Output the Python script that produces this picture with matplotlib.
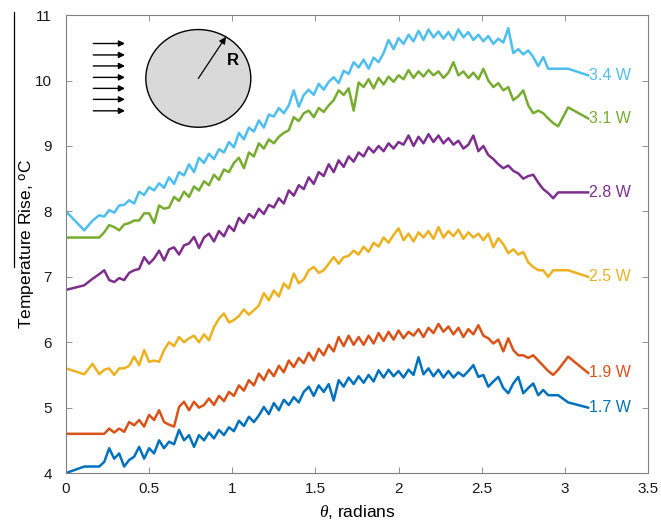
import matplotlib
matplotlib.use("Agg")
import matplotlib.pyplot as plt
from matplotlib.patches import Ellipse
from matplotlib.lines import Line2D

plt.rcParams['font.family'] = ['Liberation Sans', 'DejaVu Sans']
plt.rcParams['mathtext.fontset'] = 'custom'
plt.rcParams['mathtext.it'] = 'Liberation Serif:italic'

# sample positions (radians), shared by all curves
theta = [0.00, 0.11, 0.16, 0.20, 0.23, 0.26, 0.29, 0.32, 0.35, 0.38, 0.41, 0.44, 0.47, 0.50,
         0.53, 0.56, 0.59, 0.62, 0.65, 0.68, 0.71, 0.74, 0.77, 0.80, 0.83, 0.86, 0.89, 0.92,
         0.95, 0.98, 1.01, 1.04, 1.07, 1.10, 1.13, 1.16, 1.19, 1.22, 1.25, 1.28, 1.31, 1.34,
         1.37, 1.40, 1.43, 1.46, 1.49, 1.52, 1.55, 1.58, 1.61, 1.64, 1.67, 1.70, 1.73, 1.76,
         1.79, 1.82, 1.85, 1.88, 1.91, 1.94, 1.97, 2.00, 2.03, 2.06, 2.09, 2.12, 2.15, 2.18,
         2.21, 2.24, 2.27, 2.30, 2.33, 2.36, 2.39, 2.42, 2.45, 2.48, 2.51, 2.54, 2.57, 2.60,
         2.63, 2.66, 2.69, 2.72, 2.75, 2.78, 2.81, 2.84, 2.87, 2.90, 2.93, 2.96, 3.02, 3.14]

t_34 = [8.00, 7.71, 7.86, 7.94, 7.92, 8.02, 7.98, 8.09, 8.10, 8.17, 8.12, 8.30, 8.25, 8.37,
        8.32, 8.43, 8.36, 8.52, 8.42, 8.60, 8.55, 8.72, 8.60, 8.82, 8.74, 8.88, 8.80, 8.95,
        8.90, 9.06, 8.98, 9.20, 9.10, 9.28, 9.22, 9.39, 9.28, 9.48, 9.45, 9.58, 9.50, 9.62,
        9.85, 9.60, 9.78, 9.86, 9.78, 9.95, 9.86, 9.98, 10.05, 9.96, 10.15, 10.10, 10.28, 10.20,
        10.32, 10.18, 10.35, 10.28, 10.42, 10.62, 10.48, 10.65, 10.56, 10.70, 10.60, 10.76, 10.62, 10.78,
        10.66, 10.75, 10.64, 10.74, 10.62, 10.78, 10.66, 10.74, 10.62, 10.70, 10.60, 10.68, 10.56, 10.64,
        10.58, 10.80, 10.42, 10.48, 10.40, 10.46, 10.36, 10.22, 10.36, 10.18, 10.18, 10.18, 10.18, 10.08]

t_31 = [7.60, 7.60, 7.60, 7.60, 7.68, 7.79, 7.76, 7.71, 7.80, 7.82, 7.86, 7.86, 7.97, 7.97,
        7.82, 8.09, 8.04, 8.06, 8.22, 8.16, 8.30, 8.22, 8.38, 8.32, 8.46, 8.40, 8.56, 8.48,
        8.64, 8.60, 8.74, 8.82, 8.66, 8.90, 8.84, 9.04, 8.96, 9.10, 9.04, 9.14, 9.20, 9.24,
        9.44, 9.38, 9.50, 9.54, 9.44, 9.58, 9.52, 9.62, 9.70, 9.85, 9.78, 9.88, 9.54, 9.97,
        9.90, 10.02, 9.88, 10.04, 9.94, 10.06, 9.98, 10.08, 10.02, 10.16, 10.04, 10.14, 10.06, 10.16,
        10.08, 10.14, 10.04, 10.12, 10.28, 10.08, 10.14, 10.04, 10.12, 10.02, 10.18, 10.00, 9.90, 9.96,
        9.85, 9.90, 9.70, 9.76, 9.85, 9.62, 9.50, 9.54, 9.50, 9.42, 9.35, 9.30, 9.59, 9.42]

t_28 = [6.80, 6.87, 6.97, 7.04, 7.10, 6.95, 6.92, 6.98, 6.95, 7.06, 7.10, 7.12, 7.30, 7.20,
        7.28, 7.40, 7.25, 7.42, 7.45, 7.34, 7.48, 7.51, 7.61, 7.44, 7.60, 7.66, 7.54, 7.70,
        7.62, 7.78, 7.70, 7.90, 7.82, 7.96, 7.90, 8.04, 7.96, 8.10, 8.06, 8.20, 8.12, 8.32,
        8.24, 8.40, 8.34, 8.52, 8.42, 8.60, 8.54, 8.72, 8.60, 8.78, 8.68, 8.84, 8.76, 8.90,
        8.84, 8.98, 8.90, 9.00, 8.92, 9.04, 8.96, 9.06, 9.02, 9.16, 9.00, 9.14, 9.04, 9.18,
        9.06, 9.16, 9.04, 9.12, 9.02, 9.08, 8.96, 9.02, 9.16, 8.92, 9.00, 8.86, 8.80, 8.72,
        8.66, 8.70, 8.62, 8.58, 8.50, 8.54, 8.56, 8.44, 8.34, 8.28, 8.20, 8.29, 8.29, 8.29]

t_25 = [5.60, 5.51, 5.67, 5.51, 5.58, 5.60, 5.50, 5.60, 5.60, 5.64, 5.78, 5.65, 5.88, 5.70,
        5.72, 5.70, 5.88, 6.00, 5.94, 6.08, 6.00, 6.06, 6.10, 6.00, 6.12, 6.03, 6.23, 6.36,
        6.44, 6.30, 6.34, 6.40, 6.50, 6.42, 6.49, 6.56, 6.75, 6.64, 6.79, 6.70, 6.90, 6.82,
        7.05, 6.90, 6.96, 7.10, 7.15, 7.06, 7.10, 7.20, 7.30, 7.20, 7.30, 7.32, 7.40, 7.34,
        7.46, 7.38, 7.52, 7.46, 7.60, 7.52, 7.64, 7.74, 7.56, 7.66, 7.54, 7.68, 7.60, 7.70,
        7.58, 7.76, 7.60, 7.70, 7.62, 7.72, 7.58, 7.68, 7.60, 7.66, 7.56, 7.66, 7.45, 7.59,
        7.50, 7.36, 7.42, 7.34, 7.38, 7.22, 7.15, 7.10, 7.10, 7.00, 7.10, 7.10, 7.10, 7.00]

t_19 = [4.60, 4.60, 4.60, 4.60, 4.60, 4.68, 4.62, 4.68, 4.63, 4.78, 4.73, 4.81, 4.71, 4.89,
        4.81, 4.96, 4.78, 4.74, 4.71, 5.01, 5.09, 4.96, 5.09, 5.00, 5.04, 5.14, 5.04, 5.18,
        5.10, 5.24, 5.18, 5.34, 5.26, 5.42, 5.34, 5.52, 5.42, 5.58, 5.48, 5.64, 5.54, 5.72,
        5.62, 5.76, 5.68, 5.84, 5.72, 5.90, 5.80, 5.96, 5.86, 6.08, 5.94, 6.10, 5.96, 6.08,
        5.96, 6.10, 5.98, 6.14, 6.02, 6.16, 6.04, 6.18, 6.06, 6.16, 6.10, 6.20, 6.08, 6.22,
        6.14, 6.28, 6.16, 6.24, 6.12, 6.22, 6.08, 6.20, 6.12, 6.26, 6.10, 6.06, 5.98, 6.04,
        5.86, 6.06, 5.88, 5.80, 5.80, 5.76, 5.80, 5.72, 5.64, 5.56, 5.50, 5.58, 5.78, 5.53]

t_17 = [4.00, 4.10, 4.10, 4.10, 4.17, 4.38, 4.22, 4.30, 4.10, 4.20, 4.25, 4.40, 4.22, 4.38,
        4.30, 4.50, 4.38, 4.48, 4.44, 4.66, 4.50, 4.58, 4.40, 4.58, 4.50, 4.62, 4.53, 4.66,
        4.58, 4.70, 4.64, 4.80, 4.72, 4.86, 4.78, 4.88, 5.01, 4.90, 5.07, 4.96, 5.12, 5.04,
        5.16, 5.08, 5.24, 5.32, 5.18, 5.34, 5.24, 5.36, 5.11, 5.42, 5.32, 5.46, 5.36, 5.48,
        5.38, 5.50, 5.40, 5.57, 5.46, 5.58, 5.48, 5.56, 5.46, 5.58, 5.50, 5.77, 5.51, 5.60,
        5.48, 5.58, 5.46, 5.56, 5.46, 5.54, 5.48, 5.56, 5.65, 5.47, 5.50, 5.32, 5.40, 5.47,
        5.30, 5.22, 5.37, 5.47, 5.22, 5.30, 5.37, 5.19, 5.27, 5.19, 5.19, 5.19, 5.08, 5.00]

curves = [
    ("1.7 W", t_17, "#0072BD"),
    ("1.9 W", t_19, "#D95319"),
    ("2.5 W", t_25, "#EDB120"),
    ("2.8 W", t_28, "#7E2F8E"),
    ("3.1 W", t_31, "#77AC30"),
    ("3.4 W", t_34, "#4DBEEE"),
]

x_ticks = [0, 0.5, 1, 1.5, 2, 2.5, 3, 3.5]
x_tick_labels = ["0", "0.5", "1", "1.5", "2", "2.5", "3", "3.5"]
y_ticks = [4, 5, 6, 7, 8, 9, 10, 11]

fig = plt.figure(figsize=(6.61, 5.21), dpi=100)
ax = fig.add_axes([0.0998, 0.092, 0.8805, 0.879])

for label, temps, color in curves:
    ax.plot(theta, temps, color=color, linewidth=1.8)
    ax.text(theta[-1] + 0.005, temps[-1], label, color=color, fontsize=11.5,
            ha="left", va="center")

ax.set_xlim(0, 3.5)
ax.set_ylim(4, 11)
ax.set_xticks(x_ticks)
ax.set_xticklabels(x_tick_labels)
ax.set_yticks(y_ticks)
ax.tick_params(direction="in", top=True, right=True, length=4, width=0.6,
               colors="#808080", labelcolor="#1a1a1a", labelsize=11)
ax.tick_params(axis="x", pad=6.5)
ax.tick_params(axis="y", pad=10)
for sp in ax.spines.values():
    sp.set_color("#808080")
    sp.set_linewidth(0.8)

ax.set_xlabel(r"$\theta$, radians", fontsize=12.5, labelpad=5)
ax.set_ylabel(r"Temperature Rise, $^{\rm o}$C", fontsize=12.5)
ax.yaxis.set_label_coords(-0.05, 0.5)

# inset sketch: flow arrows and cylinder
for yf in [0.938, 0.913, 0.889, 0.864, 0.840, 0.816, 0.791]:
    ax.annotate("", xy=(0.1014, yf), xytext=(0.047, yf), xycoords="axes fraction",
                arrowprops=dict(arrowstyle="-|>", color="black", lw=1.0,
                                mutation_scale=9, shrinkA=0, shrinkB=0))

ax.add_patch(Ellipse((0.2274, 0.8618), 0.1804, 0.2133, transform=ax.transAxes,
                     facecolor="#d9d9d9", edgecolor="black", linewidth=1.0, zorder=3))
ax.annotate("", xy=(0.2749, 0.9526), xytext=(0.2274, 0.8618), xycoords="axes fraction",
            arrowprops=dict(arrowstyle="-|>", color="black", lw=0.9,
                            mutation_scale=10, shrinkA=0, shrinkB=0), zorder=4)
ax.text(0.2864, 0.9002, "R", transform=ax.transAxes, fontsize=12, fontweight="bold",
        ha="center", va="center", zorder=5)

# stray vertical rule at the left edge of the source image
fig.add_artist(Line2D([0.0212, 0.0212], [0.977, 0.4875], color="black", linewidth=0.9))

fig.savefig("out.png", dpi=100)
